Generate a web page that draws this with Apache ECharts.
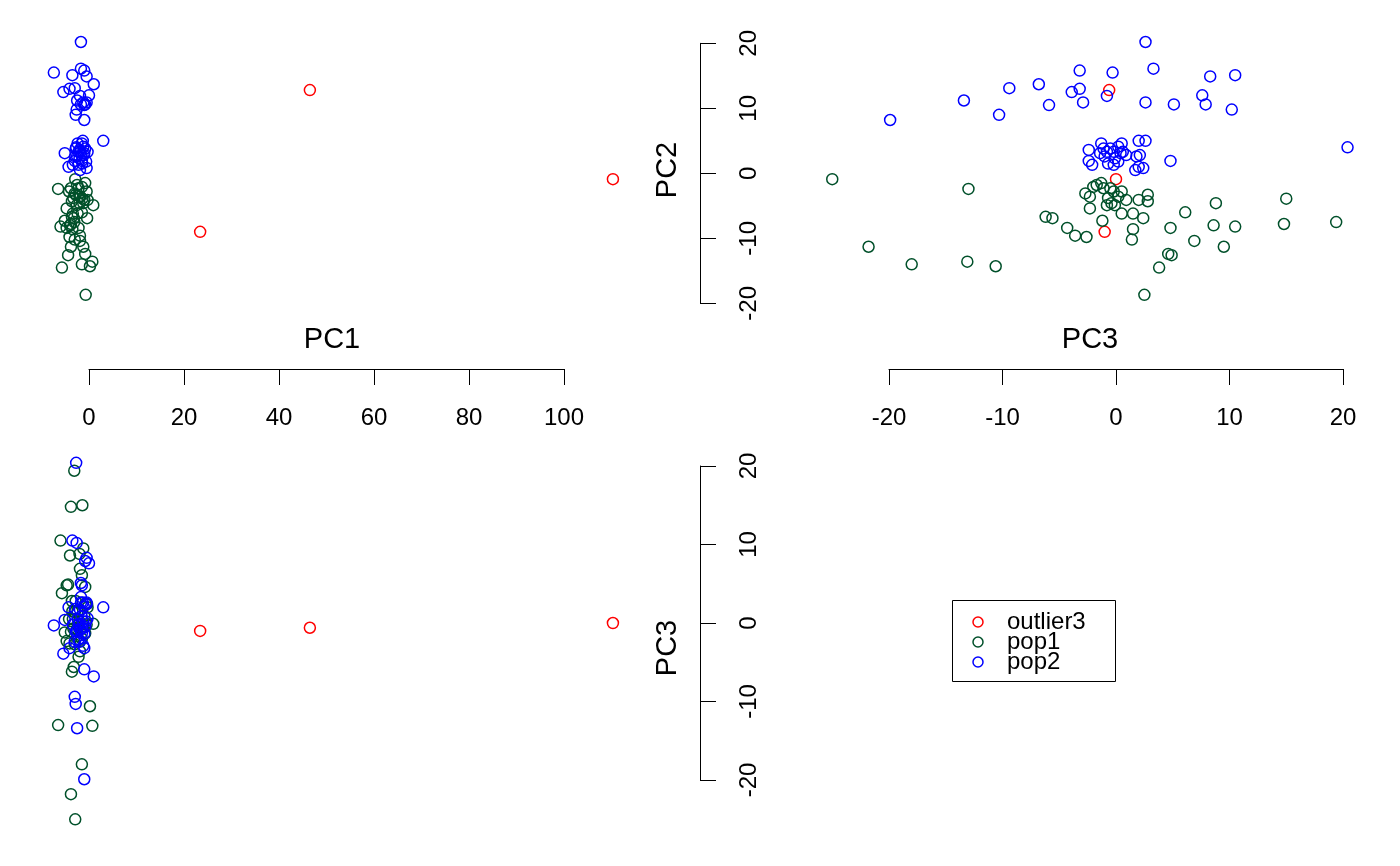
<!DOCTYPE html>
<html><head><meta charset="utf-8">
<script src="https://cdn.jsdelivr.net/npm/echarts@6/dist/echarts.min.js"></script>
<style>html,body{margin:0;padding:0;background:#fff}#c{width:1400px;height:866px}</style>
</head><body><div id="c"></div>
<script>
// groups and colours
const groups = ['outlier3', 'pop1', 'pop2'];
const groupColors = ['#FF0000', '#00502A', '#0000FF'];

// each row: [PC1, PC2, PC3]
const outlier3 = [[23.4, -9.0, -1.0], [46.5, 12.8, -0.6], [110.3, -0.9, 0.0]];

const pop1 = [
  [-3.0, -3.1, -2.7], [-1.5, -2.1, -2.0], [-2.5, -1.8, -1.7], [-0.8, -1.5, -1.3],
  [-3.8, -2.3, -1.1], [-1.8, -3.6, -2.3], [-4.7, -5.4, -2.3], [-2.2, -2.3, -0.5],
  [-0.5, -2.8, -0.2], [-3.3, -3.8, -0.7], [-2.6, -4.9, -0.8], [-1.2, -4.6, -0.4],
  [0.9, -4.9, -0.1], [-2.0, -3.6, 0.2], [-4.2, -2.8, 0.5], [-1.0, -4.1, 0.9],
  [-3.4, -6.2, 0.5], [-2.4, -6.2, 1.5], [-0.3, -4.1, 2.0], [-0.4, -6.9, 2.4],
  [-2.8, -3.3, 2.8], [-3.6, -4.3, 2.8], [-1.5, -6.0, 6.1], [-5.1, -7.3, -1.2],
  [-2.2, -8.4, -4.3], [-3.5, -8.6, 1.5], [-4.7, -8.4, 4.8], [-1.9, -9.6, -3.6],
  [-4.1, -9.8, -2.6], [-3.0, -10.2, 1.4], [-0.8, -12.4, 4.6], [-4.4, -12.6, 4.9],
  [-5.7, -14.5, 3.8], [-0.7, -18.7, 2.5], [-2.0, -4.6, 8.8], [-4.0, -8.0, 8.6],
  [-6.0, -8.2, 10.5], [-1.9, -10.4, 6.9], [-1.2, -11.3, 9.5], [-1.4, -3.9, 15.0],
  [-3.8, -7.8, 14.8], [-3.1, -7.5, 19.4], [-2.9, -0.9, -25.0], [-6.5, -2.4, -13.0],
  [-3.6, -6.7, -6.2], [-3.2, -6.9, -5.6], [-3.8, -11.3, -21.8], [-1.5, -14.0, -18.0],
  [0.7, -13.6, -13.1], [0.2, -14.3, -10.6]
];

const pop2 = [
  [-1.0, 8.2, -19.9], [-2.5, 11.2, -13.4], [-3.0, 13.1, -9.4], [-2.8, 9.0, -10.3],
  [1.0, 13.7, -6.8], [-1.0, 10.5, -5.9], [-1.7, 20.2, 2.6], [-1.0, 15.8, -3.2],
  [-7.4, 15.5, -0.3], [-1.7, 16.1, 3.3], [-0.5, 14.9, 8.3], [-3.5, 15.1, 10.5],
  [-4.1, 13.0, -3.2], [-5.4, 12.5, -3.9], [-1.2, 10.9, -2.9], [-1.9, 11.9, -0.8],
  [-0.5, 10.9, 2.6], [-1.7, 10.6, 5.1], [0.0, 12.0, 7.6], [-0.8, 10.6, 7.9],
  [-2.6, 9.8, 10.2], [-2.7, 4.0, 20.4], [-1.5, 1.9, 4.8], [-2.0, 3.6, -2.4],
  [-3.0, 1.9, -2.4], [-2.2, 1.3, -2.1], [-1.5, 4.6, -1.3], [-2.8, 3.8, -1.1],
  [-1.0, 3.1, -1.4], [-2.5, 2.6, -1.0], [-1.8, 3.3, -0.8], [-0.8, 3.8, -0.5],
  [-2.2, 3.3, -0.2], [-1.2, 4.1, 0.2], [-2.4, 4.6, 0.5], [-5.1, 3.1, 0.4],
  [-0.3, 3.3, 0.6], [-1.6, 2.8, 0.9], [-1.4, 1.5, -0.7], [-3.4, 1.3, -0.2],
  [-0.6, 1.8, 0.2], [-2.0, 2.3, -0.1], [3.0, 5.0, 2.0], [-1.3, 5.0, 2.6],
  [-2.9, 2.6, 1.8], [-1.1, 2.8, 2.1], [-4.3, 1.0, 2.0], [-0.5, 0.8, 2.4],
  [-1.9, 0.5, 1.7]
];

const axisTitles = ['PC1', 'PC2', 'PC3'];
const pc1Ticks = {min: 0, max: 100, interval: 20};
const pc2Ticks = {min: -20, max: 20, interval: 10};
const pc3Ticks = {min: -20, max: 20, interval: 10};

const groupData = [outlier3, pop1, pop2];
const FONT = '"Liberation Sans", Arial, Helvetica, sans-serif';

const chart = echarts.init(document.getElementById('c'), null, {renderer: 'canvas'});

function g(left, top, width, height) {
  return {left, top, width, height, containLabel: false, outerBoundsMode: 'none', show: false};
}
function hidden(gi, min, max) {
  return {type: 'value', gridIndex: gi, min, max, show: false, splitLine: {show: false}};
}
function vis(gi, t, position, isY) {
  return {
    type: 'value', gridIndex: gi, min: t.min, max: t.max, interval: t.interval, position,
    axisLine: {show: true, onZero: false, lineStyle: {color: '#000', width: 1}},
    axisTick: {show: true, inside: false, length: 16, lineStyle: {color: '#000', width: 1}},
    axisLabel: {show: true, margin: 37, color: '#000', fontSize: 24, fontFamily: FONT,
      rotate: isY ? 90 : 0, showMinLabel: true, showMaxLabel: true},
    splitLine: {show: false}
  };
}

// scatter panels: [gridIndex, xColumn, yColumn]
const panels = [[0, 0, 1], [1, 2, 1], [2, 0, 2]];

const series = [];
panels.forEach(([gi, xc, yc]) => {
  groups.forEach((name, k) => {
    series.push({
      type: 'scatter', name, xAxisIndex: gi, yAxisIndex: gi, silent: true, clip: false,
      symbol: 'circle', symbolSize: 11,
      itemStyle: {color: 'rgba(0,0,0,0)', borderColor: groupColors[k], borderWidth: 1.5, opacity: 1},
      data: groupData[k].map(r => [r[xc], r[yc]])
    });
  });
});

const titleStyle = (text) => ({text, font: '29px ' + FONT, fill: '#000', textAlign: 'center', textVerticalAlign: 'middle'});

const graphic = [
  {type: 'text', x: 332, y: 340, style: titleStyle(axisTitles[0])},
  {type: 'text', x: 1090, y: 340, style: titleStyle(axisTitles[2])},
  {type: 'text', x: 668, y: 170, rotation: Math.PI / 2, style: titleStyle(axisTitles[1])},
  {type: 'text', x: 668, y: 648, rotation: Math.PI / 2, style: titleStyle(axisTitles[2])},
  {type: 'rect', shape: {x: 952.5, y: 600.5, width: 163, height: 81}, style: {fill: 'none', stroke: '#000', lineWidth: 1}}
];
groups.forEach((name, k) => {
  graphic.push({type: 'circle', shape: {cx: 978, cy: 622 + 20 * k, r: 5}, style: {fill: 'none', stroke: groupColors[k], lineWidth: 1.5}});
  graphic.push({type: 'text', x: 1007, y: 622 + 20 * k, style: {text: name, font: '24px ' + FONT, fill: '#000', textAlign: 'left', textVerticalAlign: 'middle'}});
});

chart.setOption({
  animation: false,
  backgroundColor: '#fff',
  grid: [
    g(41.5, 30.3, 598.5, 286),     // PC1 vs PC2
    g(820.9, 30.3, 544.8, 286),    // PC3 vs PC2
    g(41.5, 418.9, 598.5, 416.1),  // PC1 vs PC3
    g(89, 329, 475, 40),           // PC1 axis
    g(889, 329, 454, 40),          // PC3 x axis
    g(640, 43.3, 60, 260),         // PC2 y axis
    g(640, 466, 60, 314)           // PC3 y axis
  ],
  xAxis: [
    hidden(0, -10, 116), hidden(1, -26, 22), hidden(2, -10, 116),
    vis(3, pc1Ticks, 'bottom', false), vis(4, pc3Ticks, 'bottom', false),
    hidden(5, 0, 1), hidden(6, 0, 1)
  ],
  yAxis: [
    hidden(0, -22, 22), hidden(1, -22, 22), hidden(2, -27, 26),
    hidden(3, 0, 1), hidden(4, 0, 1),
    vis(5, pc2Ticks, 'right', true), vis(6, pc3Ticks, 'right', true)
  ],
  graphic,
  series
});
</script></body></html>
